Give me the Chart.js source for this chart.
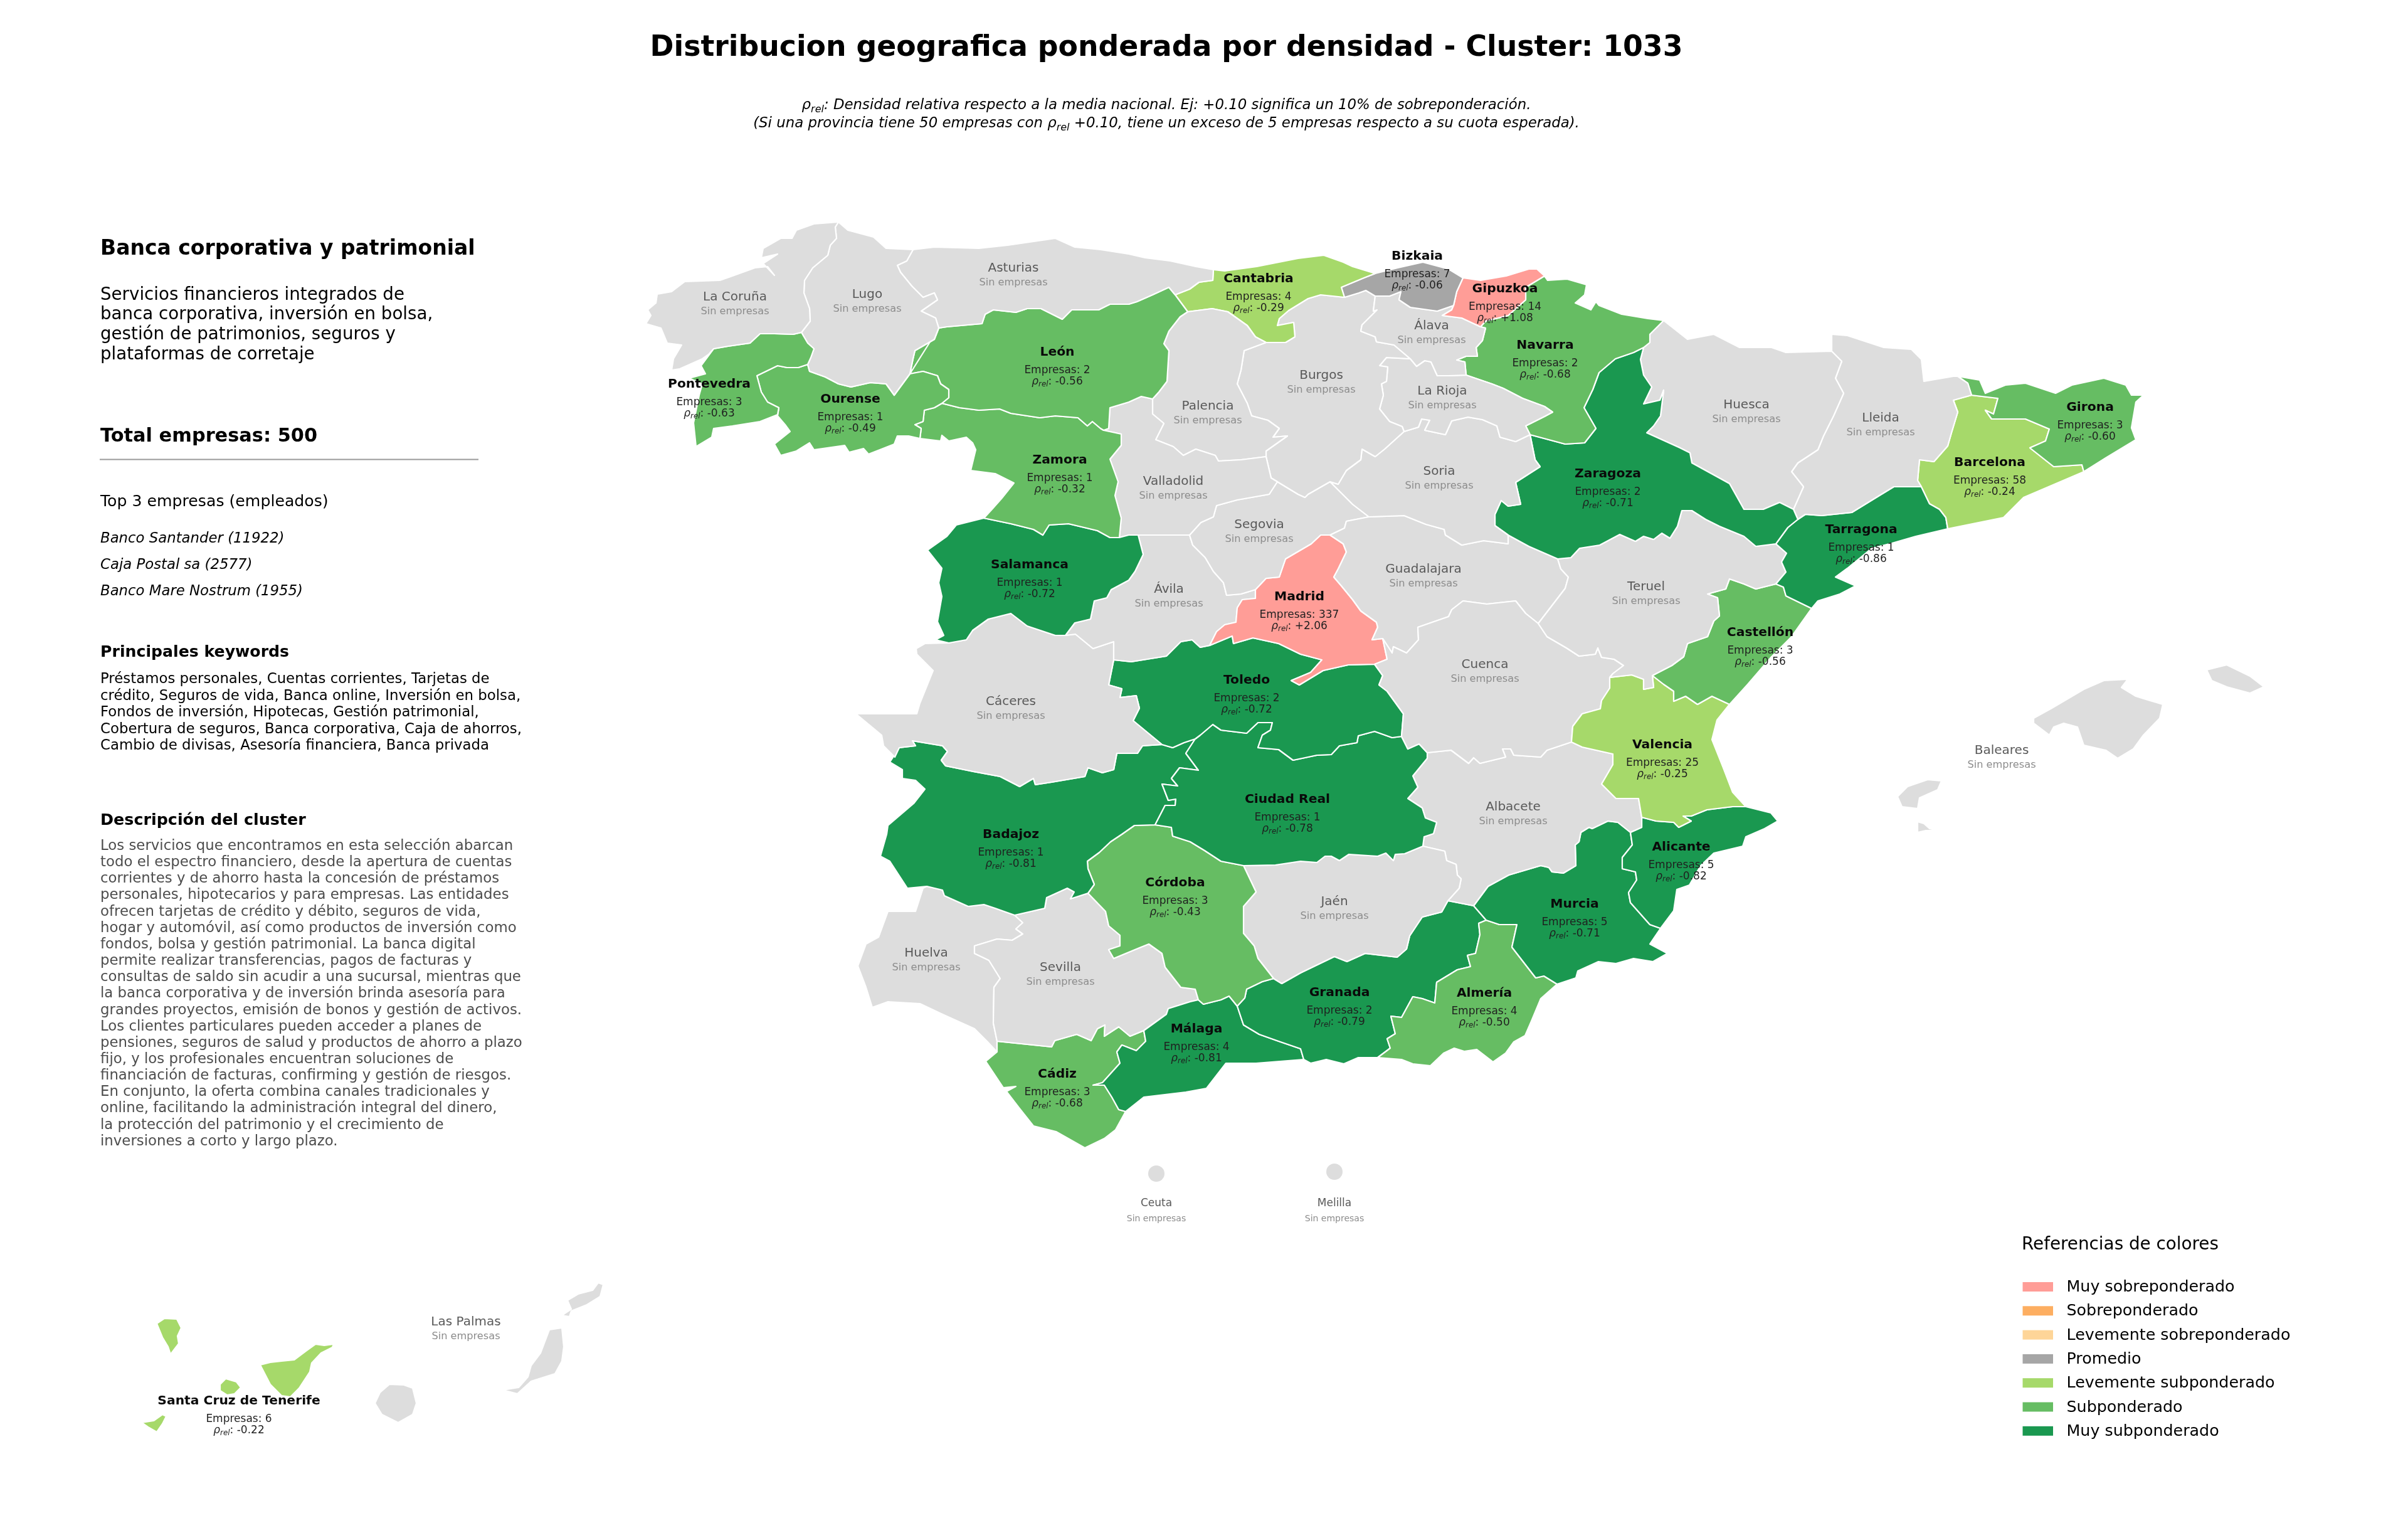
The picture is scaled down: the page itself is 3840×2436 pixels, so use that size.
<!DOCTYPE html>
<html><head><meta charset="utf-8">
<style>html,body{margin:0;padding:0;background:#fff}canvas{display:block}</style>
<script src="https://cdn.jsdelivr.net/npm/chart.js@4/dist/chart.umd.min.js"></script>
</head><body><canvas id="c" width="3840" height="2436"></canvas>
<script>
// ---------- values ----------
const titleText = "Distribucion geografica ponderada por densidad - Cluster: 1033";
const clusterName = "Banca corporativa y patrimonial";
const clusterTagline = ["Servicios financieros integrados de","banca corporativa, inversión en bolsa,","gestión de patrimonios, seguros y","plataformas de corretaje"];
const totalLabel = "Total empresas: 500";
const topHeader = "Top 3 empresas (empleados)";
const topCompanies = ["Banco Santander (11922)","Caja Postal sa (2577)","Banco Mare Nostrum (1955)"];
const keywordLines = ["Préstamos personales, Cuentas corrientes, Tarjetas de","crédito, Seguros de vida, Banca online, Inversión en bolsa,","Fondos de inversión, Hipotecas, Gestión patrimonial,","Cobertura de seguros, Banca corporativa, Caja de ahorros,","Cambio de divisas, Asesoría financiera, Banca privada"];
const descriptionLines = ["Los servicios que encontramos en esta selección abarcan","todo el espectro financiero, desde la apertura de cuentas","corrientes y de ahorro hasta la concesión de préstamos","personales, hipotecarios y para empresas. Las entidades","ofrecen tarjetas de crédito y débito, seguros de vida,","hogar y automóvil, así como productos de inversión como","fondos, bolsa y gestión patrimonial. La banca digital","permite realizar transferencias, pagos de facturas y","consultas de saldo sin acudir a una sucursal, mientras que","la banca corporativa y de inversión brinda asesoría para","grandes proyectos, emisión de bonos y gestión de activos.","Los clientes particulares pueden acceder a planes de","pensiones, seguros de salud y productos de ahorro a plazo","fijo, y los profesionales encuentran soluciones de","financiación de facturas, confirming y gestión de riesgos.","En conjunto, la oferta combina canales tradicionales y","online, facilitando la administración integral del dinero,","la protección del patrimonio y el crecimiento de","inversiones a corto y largo plazo."];
const legendNames = ["Muy sobreponderado","Sobreponderado","Levemente sobreponderado","Promedio","Levemente subponderado","Subponderado","Muy subponderado"];
const legendColors = ["#ff9d97","#fdae61","#fed598","#a6a6a6","#a6d96a","#66bd63","#1a9850"];

const provinceNames = ["Pontevedra","Ourense","León","Zamora","Salamanca","Cantabria","Bizkaia","Gipuzkoa","Navarra","Zaragoza","Girona","Barcelona","Tarragona","Castellón","Valencia","Alicante","Murcia","Almería","Granada","Málaga","Cádiz","Córdoba","Ciudad Real","Toledo","Badajoz","Madrid","Santa Cruz de Tenerife"];
const companyCounts = [3,1,2,1,1,4,7,14,2,2,3,58,1,3,25,5,5,4,2,4,3,3,1,2,1,337,6];
const rhoRel = [-0.63,-0.49,-0.56,-0.32,-0.72,-0.29,-0.06,1.08,-0.68,-0.71,-0.60,-0.24,-0.86,-0.56,-0.25,-0.82,-0.71,-0.50,-0.79,-0.81,-0.68,-0.43,-0.78,-0.72,-0.81,2.06,-0.22];
const labelAnchors = [[1131,618],[1356,642],[1686,567],[1690,739],[1642,906],[2007,450],[2260,414],[2400,466],[2464,556],[2564,761],[3333,655],[3173,743],[2968,850],[2807,1014],[2651,1193],[2681,1356],[2511,1447],[2367,1589],[2136,1588],[1908,1646],[1686,1718],[1874,1413],[2053,1280],[1988,1090],[1612,1336],[2072,957],[381,2239]];
const emptyNames = ["La Coruña","Lugo","Asturias","Álava","Burgos","La Rioja","Palencia","Soria","Valladolid","Segovia","Guadalajara","Ávila","Huesca","Lleida","Teruel","Cuenca","Albacete","Jaén","Cáceres","Huelva","Sevilla","Baleares","Las Palmas"];
const emptyAnchors = [[1172,479],[1383,475],[1616,433],[2283,525],[2107,604],[2300,629],[1926,653],[2295,757],[1871,773],[2008,842],[2270,913],[1864,945],[2785,651],[2999,672],[2625,941],[2368,1065],[2413,1292],[2128,1443],[1612,1124],[1477,1525],[1691,1548],[3192,1202],[743,2113]];
const smallNames = ["Ceuta","Melilla"];
const smallDots = [{x:1844,y:1871},{x:2128,y:1868}];

// ---------- border chains, map units ----------
const coCoast=[[1337,354],[1298,357],[1270,367],[1263,380],[1245,380],[1217,396],[1214,411],[1240,405],[1217,420],[1235,439],[1224,425],[1204,427],[1168,440],[1148,447],[1092,449],[1071,465],[1048,469],[1046,483],[1033,494],[1038,503],[1030,516],[1054,523],[1064,547],[1087,550],[1074,572],[1071,590],[1084,588],[1120,572],[1130,565],[1138,556]];
const poCo=[[1138,556],[1161,552],[1196,547],[1212,532],[1235,532],[1265,533],[1278,530]];
const coLu=[[1278,530],[1292,512],[1291,492],[1282,467],[1283,447],[1296,427],[1320,407],[1324,391],[1334,380],[1332,362],[1337,354]];
const poCoast=[[1138,556],[1118,583],[1125,596],[1099,603],[1120,612],[1115,630],[1106,674],[1110,712],[1135,697],[1138,683],[1168,679],[1212,672],[1240,661],[1242,650]];
const poOu=[[1242,650],[1224,641],[1214,625],[1207,599],[1240,583],[1255,586],[1273,586],[1288,581]];
const poLu=[[1288,581],[1293,570],[1298,556],[1288,547],[1278,530]];
const luCoast=[[1456,398],[1413,396],[1393,378],[1352,367],[1337,354]];
const luOu=[[1288,581],[1291,592],[1316,601],[1337,612],[1357,617],[1388,610],[1413,612],[1426,630],[1451,596]];
const luLe=[[1451,596],[1456,572],[1459,559],[1490,541],[1497,523]];
const luAs=[[1497,523],[1492,507],[1469,496],[1495,478],[1490,467],[1472,474],[1454,456],[1436,434],[1431,423],[1446,416],[1456,398]];
const ouLe=[[1451,596],[1472,592],[1495,599],[1500,612],[1513,621],[1513,634],[1502,643]];
const ouZa=[[1502,643],[1490,650],[1474,654],[1472,672],[1459,677],[1469,683],[1467,699]];
const ouSouth=[[1467,699],[1449,695],[1431,695],[1426,708],[1403,717],[1385,724],[1377,715],[1354,721],[1347,710],[1298,717],[1291,706],[1270,719],[1245,726],[1235,708],[1260,688],[1252,677],[1240,663],[1242,650]];
const asCoast=[[1456,398],[1490,394],[1561,396],[1607,391],[1683,380],[1714,394],[1755,398],[1800,405],[1826,411],[1866,416],[1907,425],[1935,430]];
const asCa=[[1935,430],[1934,447],[1912,450],[1897,461],[1874,470]];
const asLe=[[1497,523],[1510,521],[1566,516],[1571,501],[1584,494],[1620,498],[1638,492],[1660,492],[1694,509],[1709,494],[1752,494],[1770,485],[1800,485],[1813,481],[1838,470],[1864,458],[1874,470]];
const caLe=[[1874,470],[1894,497]];
const lePa=[[1894,497],[1882,505],[1864,528],[1856,548],[1864,559],[1861,608],[1848,625],[1838,636]];
const leVa=[[1838,636],[1820,632],[1800,641],[1770,650],[1768,683],[1760,686]];
const leZa=[[1760,686],[1755,683],[1742,672],[1734,679],[1719,666],[1683,663],[1658,666],[1612,659],[1594,652],[1561,654],[1530,650],[1502,643]];
const zaVa=[[1760,686],[1788,692],[1788,710],[1770,732],[1783,768],[1778,790],[1788,826],[1785,857]];
const saZa=[[1569,826],[1612,835],[1648,844],[1663,853],[1673,837],[1704,835],[1750,846],[1770,857],[1785,857]];
const zaPor=[[1467,699],[1500,703],[1502,694],[1513,703],[1541,697],[1551,706],[1556,717],[1548,750],[1587,755],[1617,770],[1597,795],[1581,813],[1569,826]];
const saVa=[[1785,857],[1800,853],[1815,853]];
const saAv=[[1815,853],[1823,884],[1810,911],[1800,925],[1772,940],[1765,953],[1745,958],[1739,987],[1714,993],[1699,1013]];
const saCa=[[1699,1013],[1683,1013],[1638,998],[1612,978],[1576,987],[1551,1005],[1541,1020],[1513,1025]];
const saPor=[[1513,1025],[1492,1020],[1505,1013],[1495,991],[1502,951],[1497,929],[1502,906],[1479,877],[1510,855],[1525,837],[1569,826]];
const paVa=[[1838,636],[1838,660],[1856,675],[1843,701],[1871,712],[1887,726],[1907,716],[1938,726],[1943,735],[1979,733],[2019,728]];
const buVa=[[2019,728],[2027,762],[2037,768]];
const seVa=[[2037,768],[2024,788],[1973,797],[1940,806],[1935,824],[1915,833],[1897,853]];
const avVa=[[1897,853],[1851,853],[1815,853]];
const paCa=[[1894,497],[1933,492],[1958,497],[1989,519],[2002,537],[2019,546]];
const paBu=[[2019,546],[1984,559],[1979,590],[1973,612],[1989,643],[1996,663],[2022,670],[2040,683],[2030,697],[2053,695],[2019,719],[2019,728]];
const caCoast=[[1935,430],[1953,432],[2004,425],[2070,412],[2111,407],[2142,418],[2157,425],[2193,436]];
const biCa=[[2193,436],[2175,443],[2139,458],[2144,474]];
const caBu=[[2144,474],[2106,470],[2086,476],[2055,495],[2040,508],[2037,519],[2063,514],[2065,537],[2050,546],[2019,546]];
const biCoast=[[2193,436],[2229,427],[2269,418],[2310,429],[2333,443]];
const biGi=[[2333,443],[2323,465],[2318,487]];
const biAl=[[2318,487],[2292,496],[2249,490],[2231,478],[2234,465],[2216,472],[2193,472]];
const biBu=[[2193,472],[2178,463],[2167,467],[2144,474]];
const giCoast=[[2333,443],[2361,447],[2402,440],[2438,429],[2451,429],[2463,440]];
const giNa=[[2463,440],[2433,458],[2433,478],[2405,503],[2369,512],[2361,521]];
const giAl=[[2361,521],[2331,507],[2300,503],[2315,494],[2318,487]];
const alNa=[[2361,521],[2369,523],[2364,543],[2354,554],[2356,568],[2338,568],[2323,574],[2336,577],[2338,598]];
const alRi=[[2338,598],[2310,599],[2292,599],[2282,577],[2272,575],[2259,584],[2249,572]];
const alBu=[[2249,572],[2223,550],[2195,545],[2193,537],[2170,528],[2172,518],[2196,494],[2190,496],[2193,472]];
const buSe=[[2037,768],[2070,788],[2081,793],[2086,788],[2121,768]];
const buSo=[[2121,768],[2134,772],[2147,750],[2170,733],[2172,716],[2193,728],[2208,716],[2239,688]];
const buRi=[[2239,688],[2236,680],[2216,672],[2200,652],[2206,630],[2203,612],[2211,608],[2213,585],[2200,583],[2211,570],[2249,572]];
const riNa=[[2338,598],[2379,612],[2397,619],[2428,635],[2463,648],[2476,657],[2463,664],[2433,679],[2440,693]];
const soRi=[[2239,688],[2262,681],[2267,668],[2280,670],[2272,686],[2305,693],[2315,671],[2341,665],[2364,669],[2387,679],[2392,697],[2417,704],[2440,693]];
const naCoast=[[2463,440],[2468,447],[2499,445],[2530,454],[2527,470],[2512,483],[2537,494],[2545,481],[2550,487],[2586,501],[2628,508],[2653,511]];
const naHu=[[2653,511],[2631,533],[2631,546],[2621,554]];
const naZa=[[2621,554],[2605,562],[2576,572],[2550,594],[2540,621],[2526,650],[2545,683],[2527,706],[2496,708],[2440,693]];
const soZa=[[2440,693],[2448,733],[2456,744],[2417,769],[2425,804],[2405,807],[2394,798],[2384,820],[2384,838],[2405,853]];
const soGu=[[2183,824],[2239,822],[2274,836],[2303,844],[2305,853],[2331,869],[2366,862],[2405,867],[2405,853]];
const seSo=[[2121,768],[2157,804],[2183,824]];
const huZa=[[2621,554],[2616,573],[2621,598],[2634,617],[2621,644],[2647,638],[2653,622],[2648,663],[2637,679],[2626,690],[2679,714],[2695,722],[2698,738],[2758,771],[2781,812],[2812,812],[2838,801],[2860,812]];
const zaLl=[[2860,812],[2867,828]];
const zaTa=[[2867,828],[2851,841],[2832,867]];
const teZa=[[2484,891],[2505,889],[2519,874],[2551,869],[2583,852],[2608,863],[2621,855],[2637,860],[2650,850],[2663,858],[2675,839],[2682,814],[2698,814],[2720,828],[2742,839],[2781,855],[2800,871],[2832,867]];
const guZa=[[2405,853],[2438,871],[2484,891]];
const hsCoast=[[2653,511],[2691,541],[2733,533],[2774,554],[2825,554],[2848,562],[2921,560]];
const huLl=[[2921,560],[2937,576],[2927,603],[2940,627],[2924,663],[2908,695],[2899,717],[2867,738],[2857,752],[2876,776],[2860,812]];
const llCoast=[[2921,560],[2921,533],[2946,535],[3004,554],[3048,557],[3064,573],[3068,608],[3115,600],[3122,600]];
const llGi=[[3122,600],[3138,611],[3144,630]];
const llBa=[[3144,630],[3115,638],[3122,657],[3112,690],[3106,711],[3084,736],[3061,733],[3058,766],[3064,776]];
const llTa=[[3064,776],[3020,776],[2997,790],[2953,817],[2905,822],[2879,820],[2867,828]];
const gnCoast=[[3122,600],[3157,606],[3166,627],[3198,614],[3230,611],[3278,627],[3304,614],[3355,603],[3390,614],[3399,630],[3418,630],[3406,641],[3399,682],[3406,701],[3358,730],[3323,752]];
const baGi=[[3323,752],[3320,741],[3275,744],[3237,714],[3262,703],[3268,684],[3230,668],[3176,668],[3166,654],[3179,660],[3186,635],[3144,630]];
const baCoast=[[3323,752],[3227,793],[3195,825],[3106,843]];
const taBa=[[3064,776],[3077,803],[3093,812],[3103,825],[3106,843]];
const taCoast=[[3106,843],[3055,855],[3017,866],[2985,874],[2946,906],[2927,920],[2959,934],[2934,947],[2899,958],[2889,970]];
const taCa=[[2889,970],[2848,950],[2844,936],[2832,931]];
const taTe=[[2832,931],[2848,912],[2841,896],[2849,882],[2832,867]];
const teCa=[[2832,931],[2800,939],[2781,931],[2758,923],[2752,939],[2723,947],[2739,953],[2742,982],[2733,990],[2723,1015],[2691,1026],[2685,1047],[2666,1061],[2635,1077]];
const teVa=[[2635,1077],[2637,1096],[2621,1099],[2621,1083],[2602,1076],[2567,1080]];
const cuTe=[[2453,994],[2467,1015],[2498,1033],[2518,1046],[2544,1043],[2548,1033],[2554,1048],[2574,1051],[2589,1061],[2572,1074],[2567,1080]];
const guTe=[[2484,891],[2489,907],[2501,920],[2496,938],[2453,994]];
const csCoast=[[2889,970],[2857,1015],[2825,1047],[2787,1091],[2758,1123]];
const csVa=[[2758,1123],[2730,1110],[2707,1123],[2688,1110],[2669,1118],[2669,1102],[2653,1091],[2635,1077]];
const vaCoast=[[2758,1123],[2738,1148],[2730,1179],[2748,1224],[2763,1263],[2784,1286]];
const vaAl=[[2784,1286],[2763,1286],[2722,1291],[2697,1301],[2684,1301],[2697,1309],[2677,1319],[2669,1311],[2641,1309],[2618,1303]];
const abVa=[[2506,1183],[2523,1191],[2572,1202],[2572,1219],[2554,1250],[2577,1273],[2613,1273],[2618,1303]];
const cuVa=[[2506,1183],[2508,1158],[2523,1138],[2552,1130],[2554,1117],[2567,1097],[2567,1080]];
const guCu=[[2205,1018],[2220,1041],[2222,1031],[2243,1041],[2262,1020],[2261,1000],[2310,983],[2315,972],[2333,958],[2371,963],[2417,958],[2433,978],[2453,994]];
const cuAb=[[2276,1200],[2314,1196],[2342,1217],[2350,1208],[2360,1217],[2401,1207],[2396,1194],[2409,1194],[2414,1204],[2457,1207],[2467,1196],[2506,1183]];
const crCu=[[2235,1174],[2245,1194],[2263,1186],[2276,1200]];
const toCu=[[2192,1059],[2205,1077],[2199,1092],[2212,1102],[2238,1138],[2235,1174]];
const maCu=[[2205,1018],[2212,1051],[2192,1059]];
const seGu=[[2183,824],[2147,831],[2144,842],[2121,853]];
const maGu=[[2121,853],[2142,867],[2147,880],[2134,907],[2127,920],[2139,934],[2157,956],[2170,974],[2195,992],[2197,1000],[2188,1020],[2205,1018]];
const maSe=[[2002,940],[2019,922],[2040,920],[2050,891],[2091,867],[2106,853],[2121,853]];
const avSe=[[1897,853],[1902,869],[1922,889],[1935,911],[1951,929],[1956,949],[1979,947],[2002,940]];
const toMa=[[1929,1029],[1965,1014],[1967,1026],[1998,1017],[2039,1026],[2074,1043],[2108,1052],[2090,1072],[2059,1085],[2072,1092],[2110,1069],[2150,1060],[2192,1059]];
const avMa=[[2002,940],[2002,954],[1981,956],[1973,969],[1971,992],[1953,996],[1940,1007],[1929,1029]];
const toAv=[[1776,1052],[1804,1055],[1860,1046],[1883,1023],[1901,1020],[1914,1032],[1929,1029]];
const ccAv=[[1699,1013],[1715,1011],[1743,1034],[1776,1023],[1776,1052]];
const toCc=[[1776,1052],[1768,1092],[1789,1098],[1786,1112],[1812,1109],[1817,1129],[1807,1149],[1853,1187]];
const baCc=[[1434,1192],[1460,1189],[1455,1181],[1503,1189],[1511,1198],[1501,1212],[1508,1221],[1552,1230],[1595,1238],[1626,1254],[1648,1241],[1651,1251],[1677,1247],[1730,1238],[1735,1224],[1758,1232],[1776,1227],[1781,1201],[1814,1201],[1822,1189],[1853,1187]];
const ccPor=[[1434,1192],[1427,1207],[1409,1189],[1406,1172],[1365,1138],[1462,1138],[1467,1121],[1488,1069],[1462,1043],[1461,1034],[1475,1026],[1513,1025]];
const crTo=[[1906,1178],[1914,1172],[1934,1155],[1947,1164],[1988,1169],[2006,1152],[2029,1152],[2026,1164],[2013,1172],[2006,1192],[2039,1195],[2062,1212],[2100,1204],[2123,1203],[2136,1189],[2164,1184],[2166,1173],[2192,1166],[2220,1176],[2235,1174]];
const toBa=[[1853,1187],[1870,1192],[1888,1184],[1906,1178]];
const crAb=[[2276,1200],[2276,1209],[2253,1237],[2261,1255],[2245,1273],[2268,1288],[2273,1304],[2291,1311],[2286,1329],[2271,1334],[2269,1349]];
const crJa=[[1983,1380],[2034,1379],[2074,1373],[2100,1375],[2113,1365],[2123,1365],[2136,1372],[2151,1362],[2197,1365],[2210,1360],[2222,1372],[2225,1362],[2240,1361],[2269,1349]];
const crCo=[[1842,1315],[1868,1319],[1870,1333],[1898,1342],[1921,1356],[1947,1373],[1983,1380]];
const crBa=[[1906,1178],[1891,1201],[1911,1228],[1881,1224],[1868,1241],[1878,1253],[1853,1250],[1863,1276],[1875,1274],[1874,1284],[1858,1284],[1842,1315]];
const coBa=[[1735,1424],[1745,1410],[1735,1385],[1734,1373],[1753,1359],[1771,1342],[1789,1330],[1809,1316],[1842,1315]];
const baSe=[[1618,1459],[1666,1448],[1669,1431],[1702,1416],[1713,1422],[1707,1433],[1735,1424]];
const baHu=[[1478,1413],[1503,1419],[1506,1428],[1544,1445],[1569,1442],[1587,1448],[1618,1459]];
const baPor=[[1478,1413],[1447,1416],[1419,1373],[1404,1365],[1414,1330],[1416,1316],[1457,1281],[1475,1258],[1460,1244],[1439,1241],[1439,1227],[1419,1215],[1434,1192]];
const coJa=[[1983,1380],[2003,1422],[1983,1445],[1983,1488],[2000,1508],[2006,1528],[2031,1560]];
const coGr=[[2031,1560],[2013,1565],[1988,1577],[1985,1591],[1973,1604]];
const coMa=[[1973,1604],[1960,1588],[1947,1594],[1919,1601],[1911,1594]];
const coSe=[[1735,1424],[1763,1453],[1768,1476],[1786,1491],[1786,1508],[1768,1514],[1776,1528],[1817,1511],[1832,1505],[1853,1520],[1858,1542],[1883,1574],[1906,1577],[1911,1594]];
const abJa=[[2269,1349],[2304,1357],[2307,1372],[2322,1378],[2324,1395],[2330,1401],[2327,1416],[2309,1436]];
const jaGr=[[2031,1560],[2044,1568],[2074,1551],[2128,1525],[2148,1533],[2177,1520],[2228,1526],[2243,1513],[2248,1492],[2268,1462],[2299,1454],[2309,1436]];
const abAl=[[2618,1303],[2618,1319],[2600,1327]];
const abMu=[[2600,1327],[2580,1311],[2564,1309],[2539,1321],[2534,1319],[2521,1327],[2518,1342],[2512,1347],[2513,1380],[2493,1392],[2475,1390],[2470,1383],[2457,1380],[2406,1395],[2373,1413],[2350,1444]];
const abGr=[[2350,1444],[2309,1436]];
const alCoast=[[2784,1286],[2824,1296],[2835,1309],[2814,1321],[2784,1334],[2779,1349],[2733,1360],[2712,1380],[2694,1411],[2674,1418],[2669,1452],[2648,1480]];
const alMu=[[2648,1480],[2631,1474],[2600,1439],[2597,1423],[2610,1403],[2608,1390],[2587,1385],[2587,1367],[2603,1347],[2600,1327]];
const muCoast=[[2648,1480],[2631,1505],[2659,1520],[2636,1533],[2605,1528],[2577,1536],[2549,1533],[2516,1548],[2513,1559],[2483,1569]];
const amMu=[[2370,1467],[2391,1474],[2419,1474],[2411,1510],[2449,1559],[2462,1556],[2483,1569]];
const grMu=[[2350,1444],[2370,1467]];
const amCoast=[[2483,1569],[2457,1592],[2442,1628],[2432,1651],[2414,1661],[2401,1679],[2381,1693],[2355,1673],[2335,1676],[2319,1671],[2302,1679],[2281,1699],[2253,1696],[2235,1689],[2197,1686]];
const grAm=[[2197,1686],[2217,1671],[2212,1656],[2225,1648],[2218,1620],[2235,1622],[2253,1589],[2268,1592],[2288,1599],[2291,1566],[2324,1546],[2345,1541],[2340,1523],[2353,1520],[2360,1490],[2358,1472],[2370,1467]];
const grCoast=[[2079,1689],[2090,1695],[2115,1689],[2143,1696],[2166,1686],[2197,1686]];
const maGr=[[1973,1604],[1983,1634],[2008,1649],[2039,1660],[2074,1672],[2079,1689]];
const mlCoast=[[1795,1772],[1824,1749],[1891,1741],[1924,1735],[1955,1695],[2003,1695],[2079,1689]];
const cdMa=[[1824,1643],[1827,1660],[1812,1675],[1789,1666],[1781,1677],[1786,1695],[1758,1726],[1743,1730],[1761,1730],[1773,1749],[1784,1769],[1795,1772]];
const seMa=[[1911,1594],[1898,1597],[1863,1608],[1860,1617],[1824,1643]];
const cdSe=[[1590,1660],[1677,1669],[1682,1659],[1717,1649],[1740,1659],[1750,1640],[1762,1634],[1761,1652],[1784,1637],[1802,1652],[1824,1643]];
const huSe=[[1618,1459],[1631,1471],[1620,1481],[1631,1489],[1614,1499],[1590,1497],[1554,1508],[1554,1520],[1577,1531],[1595,1560],[1585,1574],[1584,1631],[1590,1660]];
const cdCoast=[[1795,1772],[1779,1801],[1761,1815],[1730,1830],[1684,1804],[1648,1795],[1625,1766],[1605,1740],[1620,1732],[1600,1734],[1572,1692],[1590,1677],[1590,1660]];
const hvCoast=[[1590,1660],[1590,1677],[1574,1660],[1554,1640],[1503,1617],[1467,1600],[1416,1597],[1391,1606],[1381,1574],[1368,1540],[1381,1505],[1401,1494],[1416,1453],[1460,1453],[1472,1416],[1478,1413]];
// islands and exclaves
const mallorca=[[3243,1145],[3272,1129],[3323,1099],[3355,1085],[3393,1083],[3383,1096],[3406,1110],[3422,1115],[3449,1123],[3444,1145],[3418,1172],[3402,1194],[3377,1209],[3358,1196],[3323,1188],[3313,1159],[3291,1153],[3275,1159],[3268,1172],[3243,1153]];
const menorca=[[3519,1068],[3551,1060],[3588,1078],[3610,1095],[3588,1105],[3551,1095],[3527,1085]];
const ibiza=[[3026,1270],[3042,1254],[3074,1243],[3096,1245],[3090,1259],[3061,1272],[3058,1289],[3033,1286]];
const formentera=[[3058,1310],[3068,1313],[3077,1321],[3090,1324],[3071,1324],[3058,1327]];
const laPalma=[[250,2110],[262,2102],[282,2103],[289,2117],[283,2130],[285,2142],[272,2159],[268,2147],[259,2132]];
const gomera=[[351,2207],[360,2198],[377,2203],[384,2212],[374,2222],[362,2224],[351,2217]];
const tenerife=[[415,2176],[431,2172],[449,2170],[469,2168],[489,2153],[503,2143],[517,2145],[532,2143],[530,2148],[512,2157],[497,2173],[494,2187],[477,2213],[463,2227],[449,2225],[431,2207]];
const hierro=[[226,2268],[245,2265],[259,2255],[265,2258],[259,2270],[250,2283],[236,2275]];
const granCanaria=[[621,2207],[644,2208],[658,2213],[664,2237],[658,2255],[635,2268],[609,2255],[598,2237],[606,2220]];
const fuerteventura=[[876,2120],[896,2117],[899,2147],[896,2170],[885,2190],[847,2202],[825,2222],[802,2216],[827,2212],[842,2195],[847,2177],[862,2157]];
const lanzarote=[[896,2097],[911,2087],[905,2073],[922,2063],[945,2057],[954,2045],[962,2048],[957,2067],[936,2080],[911,2090],[908,2099]];
const ademuz=[[2518,1046],[2544,1043],[2548,1033],[2554,1048],[2574,1051],[2589,1061],[2569,1069],[2539,1069]];
const toledoIsle=[[1853,1187],[1870,1155],[1893,1169],[1888,1184],[1870,1192]];
const bizkaiaIsle=[[2211,496],[2218,494],[2226,501],[2216,503]];
const navarraIsleA=[[2580,607],[2587,599],[2596,607]];
const navarraIsleB=[[2568,614],[2577,609],[2574,616]];

const R=a=>[...a].reverse();
const P=(...c)=>c.flat();
const shapes=[
 ["La Coruña",P(coCoast,poCo,coLu)],
 ["Pontevedra",P(poCoast,poOu,poLu,R(poCo))],
 ["Lugo",P(R(coLu),R(poLu),luOu,luLe,luAs,luCoast)],
 ["Ourense",P(luOu,ouLe,ouZa,ouSouth,poOu)],
 ["Asturias",P(asCoast,asCa,R(asLe),luAs)],
 ["León",P(asLe,caLe,lePa,leVa,leZa,R(ouLe),R(luLe))],
 ["Zamora",P(R(leZa),zaVa,R(saZa),R(zaPor),R(ouZa))],
 ["Salamanca",P(saZa,saVa,saAv,saCa,saPor)],
 ["Valladolid",P(paVa,buVa,seVa,avVa,R(saVa),R(zaVa),R(leVa))],
 ["Palencia",P(paCa,paBu,R(paVa),R(lePa))],
 ["Cantabria",P(caCoast,biCa,caBu,R(paCa),R(caLe),R(asCa))],
 ["Bizkaia",P(biCoast,biGi,biAl,biBu,R(biCa))],
 ["Gipuzkoa",P(giCoast,giNa,giAl,R(biGi))],
 ["Álava",P(R(giAl),alNa,alRi,alBu,R(biAl))],
 ["Burgos",P(caBu,paBu,buVa,buSe,buSo,buRi,alBu,biBu)],
 ["La Rioja",P(buRi,R(alRi),riNa,R(soRi))],
 ["Navarra",P(naCoast,naHu,naZa,R(riNa),R(alNa),R(giNa))],
 ["Soria",P(buSo,soRi,soZa,R(soGu),R(seSo))],
 ["Zaragoza",P(huZa,zaLl,zaTa,R(teZa),R(guZa),R(soZa),R(naZa))],
 ["Huesca",P(hsCoast,huLl,R(huZa),R(naHu))],
 ["Lleida",P(llCoast,llGi,llBa,llTa,R(zaLl),R(huLl))],
 ["Girona",P(gnCoast,baGi,R(llGi))],
 ["Barcelona",P(R(baGi),baCoast,R(taBa),R(llBa))],
 ["Tarragona",P(R(llTa),taBa,taCoast,taCa,taTe,R(zaTa))],
 ["Teruel",P(teZa,R(taTe),teCa,teVa,R(cuTe),R(guTe))],
 ["Castellón",P(R(taCa),csCoast,csVa,R(teCa))],
 ["Valencia",P(R(csVa),vaCoast,vaAl,R(abVa),cuVa,R(teVa))],
 ["Cuenca",P(guCu,cuTe,R(cuVa),R(cuAb),R(crCu),R(toCu),R(maCu))],
 ["Guadalajara",P(R(seGu),soGu,guZa,guTe,R(guCu),R(maGu))],
 ["Segovia",P(buSe,seSo,seGu,R(maSe),R(avSe),R(seVa))],
 ["Madrid",P(maSe,maGu,maCu,R(toMa),R(avMa))],
 ["Ávila",P(avSe,avMa,R(toAv),R(ccAv),R(saAv),R(avVa))],
 ["Cáceres",P(ccAv,toCc,R(baCc),ccPor,R(saCa))],
 ["Toledo",P(toMa,toCu,R(crTo),R(toBa),R(toCc),toAv)],
 ["Ciudad Real",P(crTo,crCu,crAb,R(crJa),R(crCo),R(crBa))],
 ["Badajoz",P(baCc,toBa,crBa,R(coBa),R(baSe),R(baHu),baPor)],
 ["Córdoba",P(coBa,crCo,coJa,coGr,coMa,R(coSe))],
 ["Jaén",P(crJa,abJa,R(jaGr),R(coJa))],
 ["Albacete",P(cuAb,abVa,abAl,abMu,abGr,R(abJa),R(crAb))],
 ["Alicante",P(R(vaAl),alCoast,alMu,R(abAl))],
 ["Murcia",P(R(abMu),R(alMu),muCoast,R(amMu),R(grMu))],
 ["Almería",P(amMu,amCoast,grAm)],
 ["Granada",P(jaGr,R(abGr),grMu,R(grAm),R(grCoast),R(maGr),R(coGr))],
 ["Málaga",P(R(coMa),maGr,R(mlCoast),R(cdMa),R(seMa))],
 ["Sevilla",P(baSe,coSe,seMa,R(cdSe),R(huSe))],
 ["Cádiz",P(cdSe,cdMa,cdCoast)],
 ["Huelva",P(huSe,hvCoast,baHu)],
 ["Baleares",mallorca],["Baleares",menorca],["Baleares",ibiza],["Baleares",formentera],
 ["Santa Cruz de Tenerife",laPalma],["Santa Cruz de Tenerife",gomera],["Santa Cruz de Tenerife",tenerife],["Santa Cruz de Tenerife",hierro],
 ["Las Palmas",granCanaria],["Las Palmas",fuerteventura],["Las Palmas",lanzarote],
 ["Valencia",ademuz],["Toledo",toledoIsle],["Bizkaia",bizkaiaIsle],["Navarra",navarraIsleA],["Navarra",navarraIsleB]
];

const NO_DATA="#dddddd", FONT="'DejaVu Sans'";
function colorFor(name){
  const i=provinceNames.indexOf(name);
  if(i<0) return NO_DATA;
  const r=rhoRel[i];
  if(r>=0.5) return legendColors[0];
  if(r>=0.2) return legendColors[1];
  if(r>=0.1) return legendColors[2];
  if(r>-0.1) return legendColors[3];
  if(r>-0.3) return legendColors[4];
  if(r>-0.7) return legendColors[5];
  return legendColors[6];
}
const datasets=shapes.map(([name,pts])=>({
  label:name,
  data:[...pts,pts[0]].map(p=>({x:p[0],y:p[1]})),
  showLine:true,fill:'shape',tension:0,
  backgroundColor:colorFor(name),borderColor:"#ffffff",borderWidth:2.2,
  pointRadius:0,pointHoverRadius:0,borderJoinStyle:'round'
}));
datasets.push({label:"Ceuta y Melilla",data:smallDots,showLine:false,pointRadius:13,pointBackgroundColor:NO_DATA,pointBorderWidth:0});

function rich(ctx,segs,cx,y){
  let total=0;
  segs.forEach(s=>{ctx.font=s.f;s.w=ctx.measureText(s.t).width;total+=s.w;});
  let x=cx-total/2;
  ctx.textAlign='left';
  segs.forEach(s=>{ctx.font=s.f;ctx.fillText(s.t,x,y+(s.dy||0));x+=s.w;});
}
function rhoSegs(size,tail,tailStyle){
  return [{t:"ρ",f:`italic ${size}px ${FONT}`},{t:"rel",f:`italic ${size*0.7}px ${FONT}`,dy:size*0.2},{t:tail,f:`${tailStyle||''} ${size}px ${FONT}`}];
}
function text(ctx,str,x,y,font,color,align){
  ctx.font=font;ctx.fillStyle=color;ctx.textAlign=align||'left';ctx.fillText(str,x,y);
}
const fmtRho=v=>(v>0?"+":"")+v.toFixed(2);

const annotations={
  id:'annotations',
  afterDatasetsDraw(chart){
    const ctx=chart.ctx, X=v=>chart.scales.x.getPixelForValue(v), Y=v=>chart.scales.y.getPixelForValue(v);
    ctx.save();ctx.textBaseline='alphabetic';
    // title and note
    text(ctx,titleText,X(1860),Y(89),`bold 45.75px ${FONT}`,"#000",'center');
    ctx.fillStyle="#000";
    rich(ctx,[...rhoSegs(22.86,": Densidad relativa respecto a la media nacional. Ej: +0.10 significa un 10% de sobreponderación.","italic")],X(1860),Y(174));
    rich(ctx,[{t:"(Si una provincia tiene 50 empresas con ",f:`italic 22.86px ${FONT}`},...rhoSegs(22.86," +0.10, tiene un exceso de 5 empresas respecto a su cuota esperada).","italic")],X(1860),Y(203));
    // left panel
    text(ctx,clusterName,X(160),Y(406),`bold 33px ${FONT}`,"#000");
    clusterTagline.forEach((l,i)=>text(ctx,l,X(160),Y(477.5+i*31.7),`27.7px ${FONT}`,"#000"));
    text(ctx,totalLabel,X(160),Y(703.5),`bold 30.4px ${FONT}`,"#000");
    ctx.strokeStyle="#999";ctx.lineWidth=2;ctx.beginPath();ctx.moveTo(X(159),Y(732.5));ctx.lineTo(X(763),Y(732.5));ctx.stroke();
    text(ctx,topHeader,X(160),Y(807),`25.2px ${FONT}`,"#000");
    topCompanies.forEach((l,i)=>text(ctx,l,X(160),Y(865+i*42.2),`italic 22.8px ${FONT}`,"#000"));
    text(ctx,"Principales keywords",X(160),Y(1047),`bold 25.2px ${FONT}`,"#000");
    keywordLines.forEach((l,i)=>text(ctx,l,X(160),Y(1089+i*26.5),`22.85px ${FONT}`,"#000"));
    text(ctx,"Descripción del cluster",X(160),Y(1315),`bold 25.4px ${FONT}`,"#000");
    descriptionLines.forEach((l,i)=>text(ctx,l,X(160),Y(1355+i*26.15),`22.85px ${FONT}`,"#4d4d4d"));
    // provinces without companies
    emptyNames.forEach((n,i)=>{
      const [x,y]=emptyAnchors[i];
      text(ctx,n,X(x),Y(y),`20px ${FONT}`,"#595959",'center');
      text(ctx,"Sin empresas",X(x),Y(y+22),`16.2px ${FONT}`,"#8c8c8c",'center');
    });
    smallNames.forEach((n,i)=>{
      const x=smallDots[i].x, y=1868+55;
      text(ctx,n,X(x),Y(y),`17px ${FONT}`,"#595959",'center');
      text(ctx,"Sin empresas",X(x),Y(y+24),`14px ${FONT}`,"#8c8c8c",'center');
    });
    // provinces with companies
    provinceNames.forEach((n,i)=>{
      const [x,y]=labelAnchors[i];
      text(ctx,n,X(x),Y(y),`bold 20.3px ${FONT}`,"#0a0a0a",'center');
      text(ctx,"Empresas: "+companyCounts[i],X(x),Y(y+28),`17px ${FONT}`,"#1f1f1f",'center');
      ctx.fillStyle="#1f1f1f";
      rich(ctx,rhoSegs(17,": "+fmtRho(rhoRel[i])),X(x),Y(y+46));
    });
    // colour key
    text(ctx,"Referencias de colores",X(3224),Y(1992),`27.8px ${FONT}`,"#000");
    legendNames.forEach((n,i)=>{
      const top=2044+i*38.3;
      ctx.fillStyle=legendColors[i];
      ctx.fillRect(X(3225.5),Y(top),X(3274)-X(3225.5),Y(top+15)-Y(top));
      text(ctx,n,X(3295.5),Y(top+15),`25.35px ${FONT}`,"#000");
    });
    ctx.restore();
  }
};

new Chart(document.getElementById('c').getContext('2d'),{
  type:'scatter',
  data:{datasets},
  plugins:[annotations],
  options:{
    responsive:false,animation:false,devicePixelRatio:1,
    layout:{padding:0,autoPadding:false},
    elements:{line:{capBezierPoints:false}},
    events:[],
    plugins:{legend:{display:false},tooltip:{enabled:false},title:{display:false}},
    scales:{
      x:{type:'linear',min:0,max:3840,display:false},
      y:{type:'linear',min:0,max:2436,reverse:true,display:false}
    }
  }
});
</script></body></html>
